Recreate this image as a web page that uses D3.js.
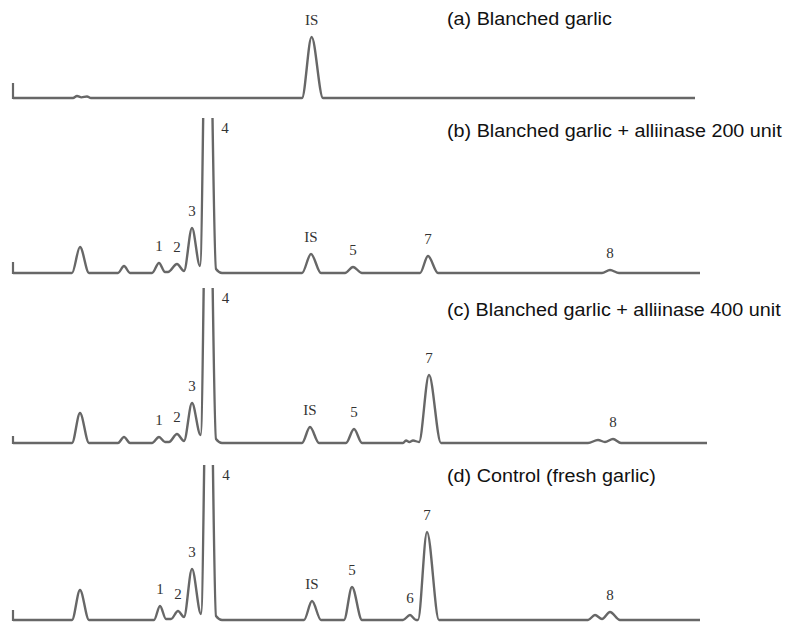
<!DOCTYPE html>
<html>
<head>
<meta charset="utf-8">
<script src="https://cdn.jsdelivr.net/npm/d3@7/dist/d3.min.js"></script>
<style>
  html, body { margin: 0; padding: 0; background: #fff; }
  svg { display: block; }
</style>
</head>
<body>
<script>
// ---------------- DATA (retention time in min, detector response in arbitrary units; full scale = 155) ----------------
const titles = [
  "(a) Blanched garlic",
  "(b) Blanched garlic + alliinase 200 unit",
  "(c) Blanched garlic + alliinase 400 unit",
  "(d) Control (fresh garlic)"
];

// key points of each chromatogram trace: [time, response]
const traceA = [[0,0],[3.0,0],[3.2,2],[3.42,0.6],[3.7,1.5],[3.9,0],[14.45,0],[14.93,61],[15.5,0],[34.1,0]];

const traceB = [[0,0],[2.95,0],[3.35,26],[3.8,0],
  [5.25,0],[5.55,7],[5.85,0],
  [6.95,0],[7.3,10],[7.6,1],[7.75,1],[8.2,9],[8.55,2],
  [8.95,45],[9.35,7],[9.73,400],[10.15,4],[10.45,0],
  [14.45,0],[14.9,19],[15.4,0],
  [16.6,0],[17.0,6],[17.45,0],
  [20.35,0],[20.75,17],[21.25,0],
  [29.45,0],[29.85,3],[30.3,0],[34.35,0]];

const traceC = [[0,0],[2.95,0],[3.35,30],[3.8,0],
  [5.25,0],[5.55,6],[5.85,0],
  [6.95,0],[7.3,6],[7.6,1],[7.8,1],[8.2,9],[8.55,2],
  [8.95,40],[9.38,8],[9.75,400],[10.15,4],[10.45,0],
  [14.45,0],[14.85,16],[15.3,0],
  [16.65,0],[17.05,14],[17.45,0],
  [19.5,0],[19.65,2.5],[19.82,1],[20.0,2.5],[20.3,1],
  [20.8,68],[21.4,0],
  [28.75,0],[29.25,3],[29.6,1],[30.0,4],[30.4,0],[34.7,0]];

const traceD = [[0,0],[2.95,0],[3.35,30],[3.8,0],
  [7.05,0],[7.35,14],[7.65,1],[7.9,1],[8.25,9],[8.55,3],
  [8.95,51],[9.4,6],[9.78,400],[10.15,4],[10.45,0],
  [14.55,0],[14.95,19],[15.4,0],
  [16.55,0],[16.95,33],[17.45,0],
  [19.5,0],[19.85,5],[20.15,0],
  [20.25,0],[20.7,88],[21.3,0],
  [28.75,0],[29.1,5],[29.45,1],[29.85,8],[30.35,0],[34.35,0]];

// peak labels: [label, retention time of the peak apex]
const labelsA = [["IS",14.93]];
const labelsB = [["1",7.3],["2",8.2],["3",8.95],["4",9.73],["IS",14.9],["5",17.0],["7",20.75],["8",29.85]];
const labelsC = [["1",7.3],["2",8.2],["3",8.95],["4",9.75],["IS",14.85],["5",17.05],["7",20.8],["8",30.0]];
const labelsD = [["1",7.35],["2",8.25],["3",8.95],["4",9.78],["IS",14.95],["5",16.95],["6",19.85],["7",20.7],["8",29.85]];

// injection (start) pen mark height for each trace
const startMarks = [15, 11, 7, 10];

const fullScale = 155;          // recorder full-scale response
const timeRange = [0, 34.7];    // minutes

// ---------------- LAYOUT ----------------
const W = 789, H = 623;
const baselines = [98, 273, 443, 620];
const titleBaselines = [25, 137, 316, 482];
const titleX = 447;

const svg = d3.select("body").append("svg")
  .attr("width", W).attr("height", H)
  .style("background", "#fff");

const x = d3.scaleLinear().domain(timeRange).range([13, 707]);

const panels = [
  {trace: traceA, labels: labelsA},
  {trace: traceB, labels: labelsB},
  {trace: traceC, labels: labelsC},
  {trace: traceD, labels: labelsD}
];

const lineColor = "#676767";

panels.forEach((p, i) => {
  const y = d3.scaleLinear().domain([0, fullScale]).range([baselines[i], baselines[i] - fullScale]);
  const g = svg.append("g");

  const clipId = "clip" + i;
  svg.append("defs").append("clipPath").attr("id", clipId)
    .append("rect")
    .attr("x", 0).attr("width", W)
    .attr("y", y(fullScale)).attr("height", fullScale + 12);

  const line = d3.line()
    .x(d => x(d[0])).y(d => y(d[1]))
    .curve(d3.curveMonotoneX);

  g.append("path")
    .datum(p.trace)
    .attr("clip-path", `url(#${clipId})`)
    .attr("d", line)
    .attr("fill", "none")
    .attr("stroke", lineColor)
    .attr("stroke-width", 2.4)
    .attr("stroke-linejoin", "round");

  // start pen mark
  g.append("line")
    .attr("x1", x(0)).attr("x2", x(0))
    .attr("y1", y(0) + 1).attr("y2", y(startMarks[i]))
    .attr("stroke", lineColor).attr("stroke-width", 2.2);

  // peak labels
  p.labels.forEach(([name, t]) => {
    const pt = p.trace.find(d => Math.abs(d[0] - t) < 1e-9);
    const h = pt ? pt[1] : 0;
    let lx, ly;
    if (h > fullScale) {          // off-scale peak: label beside the clipped top
      lx = x(t) + 17.5;
      ly = y(fullScale) + 15;
    } else {
      lx = x(t);
      ly = y(h) - 12;
    }
    g.append("text")
      .attr("x", lx).attr("y", ly)
      .attr("text-anchor", "middle")
      .attr("font-family", "'Liberation Serif', 'Times New Roman', serif")
      .attr("font-size", 15)
      .attr("fill", "#333")
      .text(name);
  });

  // panel title
  svg.append("text")
    .attr("transform", `translate(${titleX},${titleBaselines[i]}) scale(1.07,1)`)
    .attr("font-family", "'Liberation Sans', Arial, sans-serif")
    .attr("font-size", 18.5)
    .attr("fill", "#111")
    .text(titles[i]);
});
</script>
</body>
</html>
